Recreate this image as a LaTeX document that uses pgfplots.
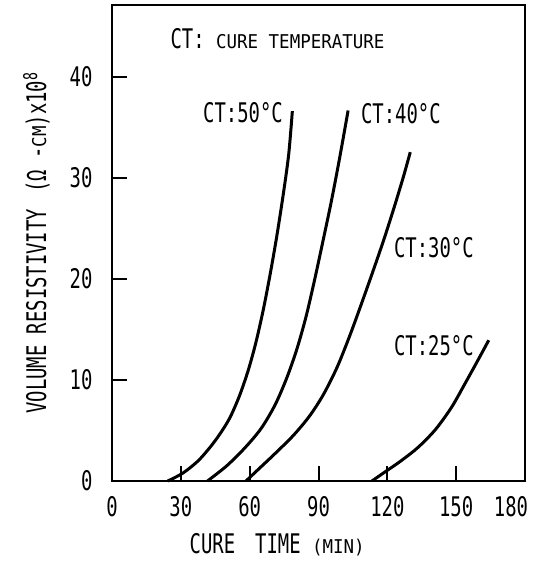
\documentclass[border=0pt]{standalone}
\usepackage{fontspec}
\setmainfont{DejaVu Sans Mono}[FakeStretch=0.7]
\usepackage{pgfplots}
\pgfplotsset{compat=1.18}
\newcommand\sm[1]{{\fontsize{19bp}{22bp}\selectfont\addfontfeature{FakeStretch=0.92}#1}}

\begin{document}
\begin{tikzpicture}[font=\fontsize{27bp}{32bp}\selectfont]
\path[use as bounding box] (0,0) rectangle (541bp,563bp);
\begin{axis}[
  at={(112bp,82bp)}, anchor=south west,
  width=413bp, height=476bp, scale only axis,
  xmin=0, xmax=180, ymin=0, ymax=47.1,
  xtick={0,30,...,180}, ytick={0,10,...,40},
  xticklabels={0,30,60,90,120,150,\hspace{-28bp}180},
  tick align=inside, tick pos=left,
  major tick length=15bp,
  tick style={black, line width=2bp},
  axis line style={line width=2bp},
  /pgf/number format/assume math mode=true,
  xticklabel style={yshift=-12bp},
  yticklabel style={xshift=-16bp},
  xlabel={CURE\hspace{20bp}TIME \sm{(MIN)}},
  ylabel={VOLUME RESISTIVITY\hspace{16bp}(Ω -\sm{CM})x10\textsuperscript{8}},
  xlabel style={at={(axis description cs:0.40,-0.133)}, anchor=center},
  ylabel style={at={(axis description cs:-0.183,0.5)}, anchor=center},
  clip=false,
  curve/.style={black, line width=3bp, smooth, no markers},
]
% CT 50 C
\addplot[curve] coordinates {(24.3,0) (31,0.8) (38,2.1) (45,4.0) (51,6.1)
  (55.5,8.4) (59.3,10.9) (62.6,13.6) (65.8,16.8) (68.8,20.3) (71.8,24.2)
  (74.6,28.3) (77.0,32.3) (78.6,36.6)};
% CT 40 C
\addplot[curve] coordinates {(41.6,0) (50,1.5) (58,3.3) (65,5.2) (71,7.5)
  (76,10.1) (80.5,13.0) (84.5,16.2) (88.2,19.8) (92,23.8) (95.8,27.9)
  (99.4,32.2) (102.9,36.66)};
% CT 30 C
\addplot[curve] coordinates {(58.4,0) (64,1.2) (71,2.7) (79,4.5) (86,6.4)
  (92,8.5) (98,11.2) (103.5,14.3) (108.5,17.4) (113.5,20.6) (118.5,23.9)
  (123,27.1) (127,30.1) (130,32.54)};
% CT 25 C
\addplot[curve] coordinates {(113.3,0) (119,0.9) (126,2.0) (133.5,3.35)
  (141,5.1) (148,7.3) (154,9.7) (159.6,12.0) (164.2,13.93)};

\node[anchor=west] at (axis cs:24,43.8) {CT: \sm{CURE TEMPERATURE}};
\node[anchor=east] at (axis cs:76,36.4) {CT:50°C};
\node[anchor=west] at (axis cs:107,36.3) {CT:40°C};
\node[anchor=west] at (axis cs:121.4,23.1) {CT:30°C};
\node[anchor=west] at (axis cs:121.4,13.4) {CT:25°C};
\end{axis}
\end{tikzpicture}
\end{document}
